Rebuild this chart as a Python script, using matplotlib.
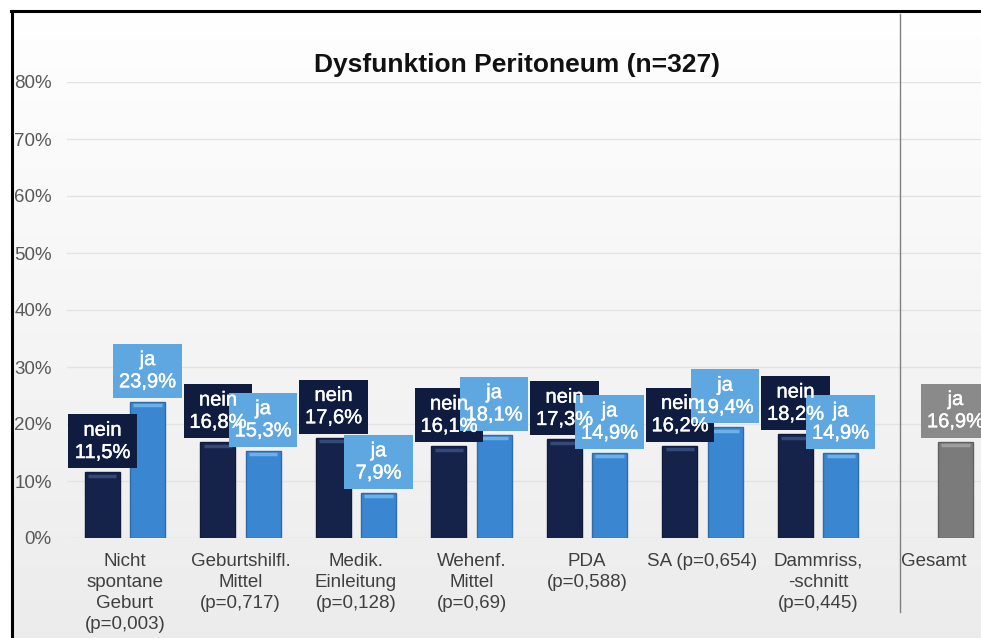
import numpy as np
import matplotlib
matplotlib.use('Agg')
import matplotlib.pyplot as plt
import matplotlib.patheffects as pe
from matplotlib.patches import Rectangle
from matplotlib.lines import Line2D

plt.rcParams['font.family'] = ['Liberation Sans', 'DejaVu Sans']

# Daten
kategorien = ['Nicht\nspontane\nGeburt\n(p=0,003)',
              'Geburtshilfl.\nMittel\n(p=0,717)',
              'Medik.\nEinleitung\n(p=0,128)',
              'Wehenf.\nMittel\n(p=0,69)',
              'PDA\n(p=0,588)',
              'SA (p=0,654)',
              'Dammriss,\n-schnitt\n(p=0,445)']
werte_nein = [11.5, 16.8, 17.6, 16.1, 17.3, 16.2, 18.2]
werte_ja = [23.9, 15.3, 7.9, 18.1, 14.9, 19.4, 14.9]
gesamt_label = 'Gesamt'
gesamt_wert = 16.9
y_ticks = [0, 10, 20, 30, 40, 50, 60, 70, 80]
titel = 'Dysfunktion Peritoneum (n=327)'

# Farben
c_nein = '#15234b'
c_nein_box = '#0f1c3f'
c_nein_hl = '#34497a'
c_ja = '#3b86d1'
c_ja_box = '#5fa7e1'
c_ja_hl = '#6db1ea'
c_ges = '#7b7b7b'
c_ges_box = '#8a8a8a'
c_ges_hl = '#9e9e9e'

fig = plt.figure(figsize=(9.81, 6.38), dpi=100)

# Hintergrund mit Verlauf
bg = fig.add_axes([0, 0, 1, 1], zorder=-5)
grad = np.linspace(1.0, 0.925, 256).reshape(-1, 1)
bg.imshow(np.dstack([grad, grad, grad]), aspect='auto', extent=[0, 1, 0, 1])
bg.set_xlim(0, 1)
bg.set_ylim(0, 1)
bg.axis('off')
# weisser Rand oben/links und schwarze Rahmenlinie
bg.add_patch(Rectangle((0, 1 - 10 / 638), 1, 10 / 638, color='white', zorder=2))
bg.add_patch(Rectangle((0, 0), 11 / 981, 1, color='white', zorder=2))
fig.add_artist(Line2D([11 / 981, 1], [1 - 11 / 638, 1 - 11 / 638], color='black', lw=2.2))
fig.add_artist(Line2D([11.5 / 981, 11.5 / 981], [0, 1 - 11 / 638], color='black', lw=2.2))

ax = fig.add_axes([67 / 981, 100 / 638, 1 - 67 / 981, 456 / 638])
ax.set_facecolor('none')

x = np.arange(len(kategorien))
breite = 0.303
versatz = 0.195
gesamt_x = 7.19
gesamt_label_x = 7.0

ax.set_ylim(0, 80)
ax.set_xlim(-0.502, 7.411)

for y in y_ticks:
    ax.axhline(y, color='#e3e3e3', lw=1, zorder=0)

def zeichne_balken(xpos, werte, farbe, hl):
    kante = [c * 0.8 for c in matplotlib.colors.to_rgb(farbe)]
    ax.bar(xpos, werte, width=breite, color=farbe, edgecolor=kante, lw=1, zorder=2)
    for xi, v in zip(np.atleast_1d(xpos), np.atleast_1d(werte)):
        ax.plot([xi - breite / 2 + 0.03, xi + breite / 2 - 0.03], [v - 0.6, v - 0.6],
                color=hl, lw=2.5, solid_capstyle='butt', zorder=3)

zeichne_balken(x - versatz, werte_nein, c_nein, c_nein_hl)
zeichne_balken(x + versatz, werte_ja, c_ja, c_ja_hl)
zeichne_balken(np.array([gesamt_x]), [gesamt_wert], c_ges, c_ges_hl)

box_w = 0.59
box_h = 9.5
box_gap = 0.7

def label_box(xi, v, text, farbe):
    r = Rectangle((xi - box_w / 2, v + box_gap), box_w, box_h, facecolor=farbe,
                  edgecolor='none', zorder=5, clip_on=False)
    ax.add_patch(r)
    ax.text(xi, v + box_gap + box_h / 2, text, color='white', fontsize=14.5,
            ha='center', va='center', linespacing=1.22, zorder=6,
            path_effects=[pe.withStroke(linewidth=0.3, foreground='white')])

for xi, v in zip(x - versatz, werte_nein):
    label_box(xi, v, 'nein\n' + f'{v:.1f}'.replace('.', ',') + '%', c_nein_box)
for xi, v in zip(x + versatz, werte_ja):
    label_box(xi, v, 'ja\n' + f'{v:.1f}'.replace('.', ',') + '%', c_ja_box)
label_box(gesamt_x, gesamt_wert, 'ja\n' + f'{gesamt_wert:.1f}'.replace('.', ',') + '%', c_ges_box)

# Trennlinie
ax.axvline(6.71, ymin=-0.162, ymax=1.149, color='#808080', lw=1, clip_on=False, zorder=1)

ax.set_yticks(y_ticks)
ax.set_yticklabels([f'{t}%' for t in y_ticks], fontsize=13.5, color='#595959')
ax.set_xticks(list(x) + [gesamt_label_x])
ax.set_xticklabels(kategorien + [gesamt_label], fontsize=13.5, color='#3f3f3f',
                   linespacing=1.33, va='top')
ax.tick_params(axis='y', length=0, pad=11)
ax.tick_params(axis='x', length=0, pad=10.5)
for s in ax.spines.values():
    s.set_visible(False)

fig.text(517 / 981, 1 - 65 / 638, titel, fontsize=19, fontweight='bold',
         ha='center', va='center', color='#111111')

fig.savefig('out.png', dpi=100)
